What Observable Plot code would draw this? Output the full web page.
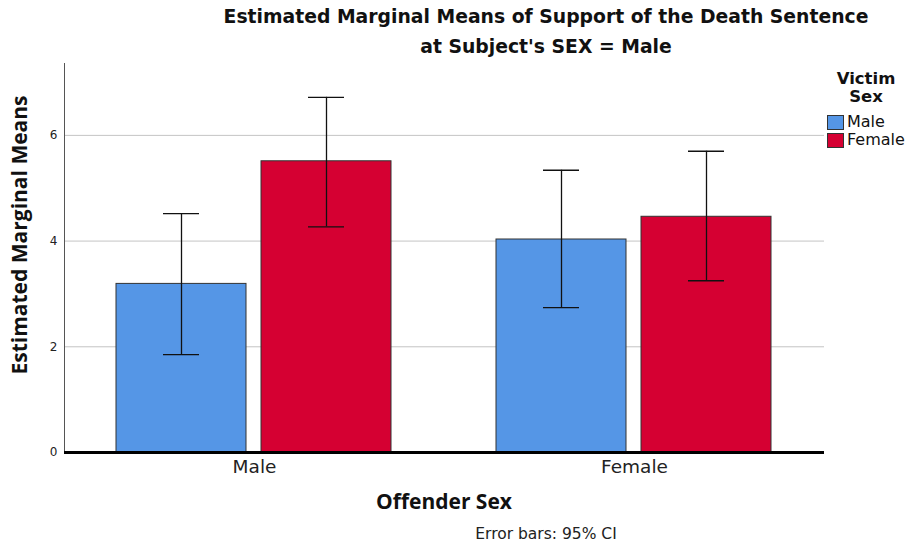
<!DOCTYPE html>
<html>
<head>
<meta charset="utf-8">
<script src="https://cdn.jsdelivr.net/npm/d3@7"></script>
<script src="https://cdn.jsdelivr.net/npm/@observablehq/plot@0.6"></script>
<style>
  html, body { margin: 0; padding: 0; background: #fff; }
  #wrap { position: relative; width: 908px; height: 548px; overflow: hidden; font-family: "DejaVu Sans", sans-serif; color: #111; }
  #chart { position: absolute; left: 0; top: 0; }
  .abs { position: absolute; white-space: nowrap; line-height: 1; }
  #title1, #title2 { font-weight: bold; font-size: 18.8px; transform: translateX(-50%); }
  #ylab { font-family: "Open Sans", sans-serif; font-weight: bold; font-size: 21px; transform: translate(-50%, -50%) rotate(-90deg); }
  #xlab { font-family: "Open Sans", sans-serif; font-weight: bold; font-size: 21px; transform: translateX(-50%); }
  #foot { font-size: 15.5px; transform: translateX(-50%); color: #222; }
  .lhead { font-weight: bold; font-size: 16.5px; transform: translateX(-50%); }
  #legend { font-size: 16px; }
  #legend .item { display: flex; align-items: center; height: 18px; }
  #legend .sw { width: 15px; height: 13px; border: 1px solid #333; margin-right: 3px; }
</style>
</head>
<body>
<div id="wrap">
  <div id="chart"></div>
  <div class="abs" id="title1" style="left:546px; top:8px;">Estimated Marginal Means of Support of the Death Sentence</div>
  <div class="abs" id="title2" style="left:546px; top:38px;">at Subject's SEX = Male</div>
  <div class="abs" id="ylab" style="left:19px; top:235px;">Estimated Marginal Means</div>
  <div class="abs" id="xlab" style="left:444px; top:491px;">Offender Sex</div>
  <div class="abs" id="foot" style="left:546px; top:527px;">Error bars: 95% CI</div>
  <div class="abs lhead" id="lh1" style="left:866px; top:71px;">Victim</div>
  <div class="abs lhead" id="lh2" style="left:866px; top:89px;">Sex</div>
  <div class="abs" id="legend" style="left:827px; top:113px;"></div>
</div>
<script>
const offenderSex = ["Male", "Female"];
const victimSex = ["Male", "Female"];
// rows: offender Male (victim Male, Female), offender Female (victim Male, Female)
const means  = [3.19, 5.51, 4.03, 4.46];
const ciLow  = [1.85, 4.27, 2.74, 3.25];
const ciHigh = [4.52, 6.72, 5.34, 5.70];
const yTicks = [0, 2, 4, 6];
const gridTicks = [2, 4, 6];
const victimColors = ["#5596E6", "#D50032"];

const rows = [];
offenderSex.forEach((o, i) => victimSex.forEach((v, j) => {
  const k = i * victimSex.length + j;
  rows.push({offender: o, victim: v, mean: means[k], lo: ciLow[k], hi: ciHigh[k]});
}));

const chart = Plot.plot({
  width: 908,
  height: 548,
  marginTop: 63,
  marginBottom: 96,
  marginLeft: 63,
  marginRight: 84,
  style: {background: "#fff", fontFamily: "DejaVu Sans, sans-serif", color: "#222", overflow: "visible"},
  fx: {domain: offenderSex, paddingInner: 0, paddingOuter: 0, label: null, axis: null},
  x: {domain: victimSex, paddingInner: 0.1027, paddingOuter: 0.353, axis: null},
  y: {domain: [0, 7.36], axis: null},
  color: {domain: victimSex, range: victimColors},
  marks: [
    Plot.ruleY(gridTicks, {stroke: "#c4c4c4", strokeWidth: 1}),
    Plot.frame({anchor: "left", facetAnchor: "left", stroke: "#555", strokeWidth: 1}),
    Plot.axisY({ticks: yTicks, tickSize: 0, tickPadding: 7, fontSize: 12, label: null, fill: "#222", facetAnchor: "left"}),
    Plot.barY(rows, {fx: "offender", x: "victim", y: "mean", fill: "victim", stroke: "#333", strokeWidth: 1}),
    Plot.ruleX(rows, {fx: "offender", x: "victim", y1: "lo", y2: "hi", stroke: "#111", strokeWidth: 1.3}),
    Plot.tickY(rows, {fx: "offender", x: "victim", y: "hi", stroke: "#111", strokeWidth: 1.3, insetLeft: 47, insetRight: 47}),
    Plot.tickY(rows, {fx: "offender", x: "victim", y: "lo", stroke: "#111", strokeWidth: 1.3, insetLeft: 47, insetRight: 47}),
    Plot.ruleY([0], {stroke: "#000", strokeWidth: 3}),
    Plot.axisFx({anchor: "bottom", tickSize: 0, tickPadding: 7, fontSize: 18.5, label: null, fill: "#222"})
  ]
});
document.getElementById("chart").appendChild(chart);

const legend = document.getElementById("legend");
legend.innerHTML = victimSex.map((v, i) =>
  `<div class="item"><div class="sw" style="background:${victimColors[i]}"></div>${v}</div>`).join("");
</script>
</body>
</html>
